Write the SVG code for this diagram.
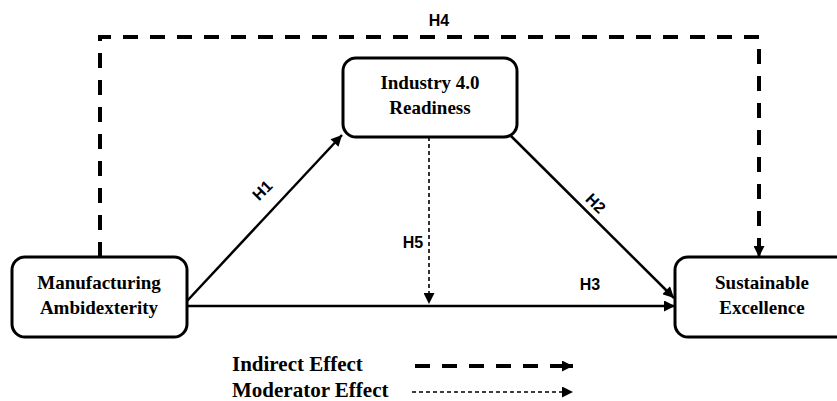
<svg xmlns="http://www.w3.org/2000/svg" width="837" height="401" viewBox="0 0 837 401">
<defs>
<marker id="ah" viewBox="0 0 10 10" refX="10" refY="5" markerWidth="12" markerHeight="11" markerUnits="userSpaceOnUse" orient="auto"><path d="M0,0 L10,5 L0,10 Z" fill="#000"/></marker>
<style>
.box{fill:#fff;stroke:#000;stroke-width:3}
.nt{font-family:"Liberation Serif","Times New Roman",serif;font-weight:bold;font-size:19px;text-anchor:middle;fill:#000}
.solid{stroke:#000;stroke-width:2.5;fill:none}
.thick{stroke:#000;stroke-width:4;fill:none;stroke-dasharray:15 12}
.thin{stroke:#000;stroke-width:1.6;fill:none;stroke-dasharray:4 3}
.lbl{font-family:"Liberation Sans",Arial,sans-serif;font-weight:bold;font-size:16px;fill:#000;text-anchor:middle}
.leg{font-family:"Liberation Serif","Times New Roman",serif;font-weight:bold;font-size:21px;fill:#000}
</style>
</defs>
<rect width="837" height="401" fill="#fff"/>
<g id="connectors">
<path class="thick" d="M100,257 V37 H759 V246"/>
<path d="M759,244 V257" stroke="#000" stroke-width="3" marker-end="url(#ah)"/>
<line class="solid" x1="187" y1="301" x2="342" y2="135" marker-end="url(#ah)"/>
<line class="solid" x1="511" y1="136" x2="674" y2="298" marker-end="url(#ah)"/>
<line class="solid" x1="187" y1="306" x2="675" y2="306" marker-end="url(#ah)"/>
<line class="thin" x1="429" y1="137" x2="429" y2="304" marker-end="url(#ah)"/>
<text class="lbl" x="439" y="26">H4</text>
<text class="lbl" transform="translate(262,190) rotate(-45)" y="6">H1</text>
<text class="lbl" transform="translate(596,203) rotate(45)" y="6">H2</text>
<text class="lbl" x="413" y="248">H5</text>
<text class="lbl" x="590" y="290">H3</text>
</g>
<g id="industry">
<rect class="box" x="343" y="58" width="174" height="79" rx="13"/>
<text class="nt" x="430" y="89">Industry 4.0</text>
<text class="nt" x="430" y="114">Readiness</text>
</g>
<g id="manufacturing">
<rect class="box" x="12" y="257" width="175" height="80" rx="13"/>
<text class="nt" x="99" y="289">Manufacturing</text>
<text class="nt" x="99" y="314">Ambidexterity</text>
</g>
<g id="sustainable">
<rect class="box" x="675" y="257" width="175" height="80" rx="13"/>
<text class="nt" x="762" y="289">Sustainable</text>
<text class="nt" x="762" y="314">Excellence</text>
</g>
<g id="legend">
<text class="leg" x="232" y="371">Indirect Effect</text>
<text class="leg" x="232" y="397">Moderator Effect</text>
<line class="thick" x1="415" y1="366" x2="564" y2="366"/>
<line x1="560" y1="366" x2="573" y2="366" stroke="#000" stroke-width="4" marker-end="url(#ah)"/>
<line class="thin" x1="412" y1="392" x2="573" y2="392" marker-end="url(#ah)"/>
</g>
</svg>
